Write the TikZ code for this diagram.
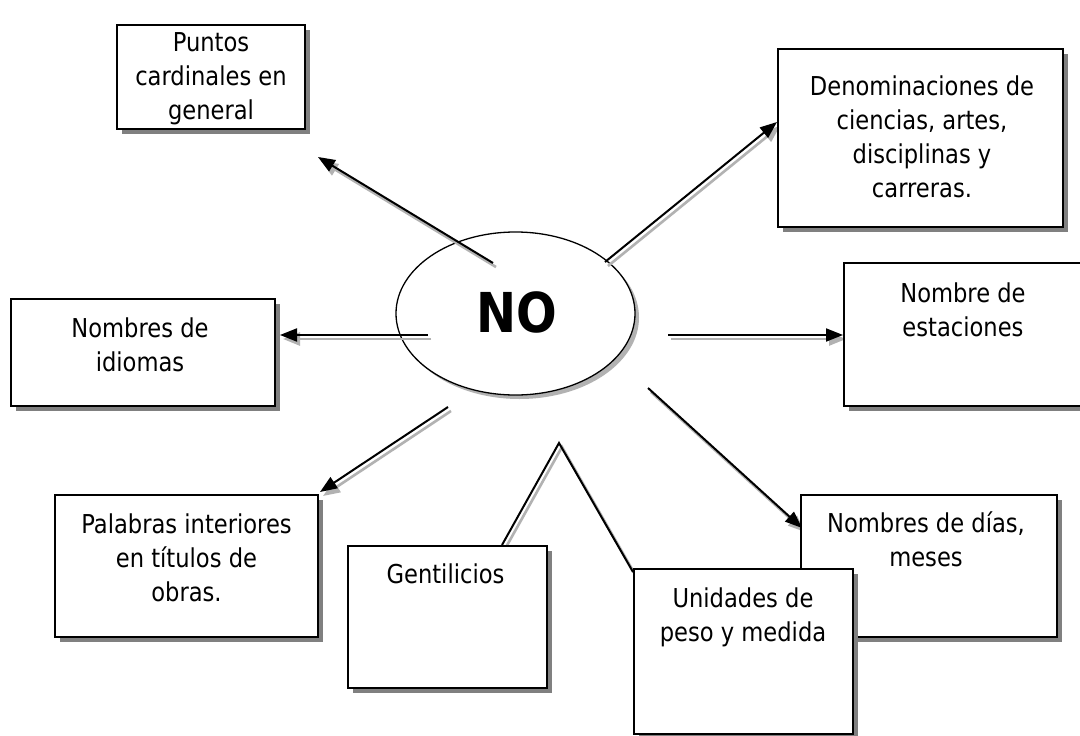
\documentclass[tikz,border=0pt]{standalone}
\usepackage{fontspec}
\setmainfont{DejaVu Sans}[FakeStretch=0.87]
\usetikzlibrary{shadows,arrows.meta,shapes.geometric}

\begin{document}
\begin{tikzpicture}[x=1pt,y=-1pt,
  box/.style={draw=black, line width=1.6pt, fill=white, inner sep=0pt, outer sep=0pt,
    drop shadow={shadow xshift=5pt,shadow yshift=-5pt,fill=black!50,opacity=1}},
  txt/.style={anchor=north, inner sep=0pt, align=center, font=\fontsize{26}{34}\selectfont},
  tip/.style={-{Triangle[length=17pt,width=13pt]}},
  conn/.style={draw=black, line width=2pt},
  connsh/.style={draw=black!30, line width=2.6pt, transform canvas={shift={(3pt,-4pt)}}},
]
\useasboundingbox (0,0) rectangle (1080,736);
\fill[white] (0,0) rectangle (1080,736);

% central ellipse
\node[ellipse, draw=black, line width=1.3pt, fill=white, inner sep=0pt,
  minimum width=239pt, minimum height=163pt,
  drop shadow={shadow xshift=4pt,shadow yshift=-4pt,fill=black!30,opacity=1}] (NO) at (515.5,313.5) {};
\node[anchor=base, inner sep=0pt, font=\fontsize{55}{66}\selectfont\bfseries] (NOt) at (517,332) {NO};

% connector end points
\coordinate (a1s) at (493,263); \coordinate (a1e) at (318,157);
\coordinate (a2s) at (605,262); \coordinate (a2e) at (777,122);
\coordinate (a3s) at (428,335); \coordinate (a3e) at (280,335);
\coordinate (a4s) at (668,335); \coordinate (a4e) at (843,335);
\coordinate (a5s) at (448,407); \coordinate (a5e) at (320,492);
\coordinate (a6s) at (648,388); \coordinate (a6e) at (802,528);
\coordinate (g1) at (502,545); \coordinate (apex) at (559,443); \coordinate (u1) at (633,572);

% shadows of connectors
\draw[connsh,tip] (a1s) -- (a1e);
\draw[connsh,tip] (a2s) -- (a2e);
\draw[connsh,tip] (a3s) -- (a3e);
\draw[connsh,tip] (a4s) -- (a4e);
\draw[connsh,tip] (a5s) -- (a5e);
\draw[connsh,tip] (a6s) -- (a6e);
\draw[connsh] (g1) -- (apex) -- (u1);

% connectors
\draw[conn,tip] (a1s) -- (a1e);
\draw[conn,tip] (a2s) -- (a2e);
\draw[conn,tip] (a3s) -- (a3e);
\draw[conn,tip] (a4s) -- (a4e);
\draw[conn,tip] (a5s) -- (a5e);
\draw[conn,tip] (a6s) -- (a6e);
\draw[conn,line join=miter] (g1) -- (apex) -- (u1);

% boxes
\node[box, minimum width=188pt, minimum height=104pt] (P) at (211,77) {};
\node[box, minimum width=285pt, minimum height=178pt] (D) at (920.5,138) {};
\node[box, minimum width=240pt, minimum height=143pt] (E) at (964,334.5) {};
\node[box, minimum width=264pt, minimum height=107pt] (I) at (143,352.5) {};
\node[box, minimum width=263pt, minimum height=142pt] (W) at (186.5,566) {};
\node[box, minimum width=199pt, minimum height=142pt] (G) at (447.5,617) {};
\node[box, minimum width=256pt, minimum height=142pt] (Dd) at (929,566) {};
\node[box, minimum width=219pt, minimum height=165pt] (U) at (743.5,651.5) {};

% texts
\node[txt] (Pt) at (211,27.2) {\strut Puntos\\cardinales en\\general};
\node[txt] (Dt) at (922,71.2) {\strut Denominaciones de\\ciencias, artes,\\disciplinas y\\carreras.};
\node[txt] (Et) at (963,278.2) {\strut Nombre de\\estaciones};
\node[txt] (It) at (140,313.2) {\strut Nombres de\\idiomas};
\node[txt] (Wt) at (186.5,509.2) {\strut Palabras interiores\\en títulos de\\obras.};
\node[txt] (Gt) at (445.5,559.2) {\strut Gentilicios};
\node[txt] (Ddt) at (926,508.2) {\strut Nombres de días,\\meses};
\node[txt] (Ut) at (743,583.2) {\strut Unidades de\\peso y medida};
\end{tikzpicture}
\end{document}
